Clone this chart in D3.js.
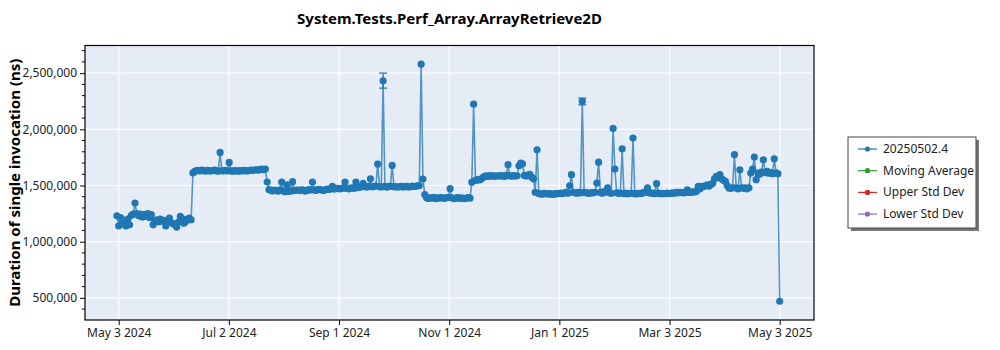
<!DOCTYPE html>
<html><head><meta charset="utf-8">
<script src="https://cdn.jsdelivr.net/npm/d3@7"></script>
<style>
html,body{margin:0;padding:0;background:#fff;}
svg{display:block;font-family:"Noto Sans","Open Sans",sans-serif;}
</style></head>
<body>
<svg id="chart" width="1000" height="350"></svg>
<script>
// ---------- data ----------
const chartTitle = "System.Tests.Perf_Array.ArrayRetrieve2D";
const yAxisTitle = "Duration of single invocation (ns)";
const startDate = "2024-05-02T00:00:00Z"; // first run, one run per day after that
// duration per daily run, in thousands of ns
const durationsK = [
 1230,1140,1215,1160,1190,1140,1200,1150,1235,1245,
 1344,1250,1230,1245,1220,1240,1225,1250,1215,1240,
 1150,1180,1195,1175,1200,1185,1190,1140,1170,1210,
 1170,1160,1150,1130,1175,1225,1205,1165,1180,1200,
 1210,1195,
 1612,1625,1632,1634,1630,1636,1632,1628,1635,1631,
 1629,1633,1637,1630,1628,1794,1632,1630,1634,1629,
 1705,1631,1627,1633,1630,1628,1632,1629,1634,1631,
 1630,1633,1636,1635,1638,1640,1637,1642,1645,1640,
 1646,
 1531,1463,1458,1452,1460,1455,1450,1462,
 1531,1450,1445,1505,1448,1452,1534,1455,1458,
 1460,1455,1462,1458,1450,1456,1463,1459,1531,1461,
 1457,1463,1466,1460,1455,1462,1468,1465,1470,1492,
 1468,1472,1475,1470,1473,1478,1531,1474,1470,1476,
 1479,1475,1531,1482,1486,1488,1520,1490,1485,1492,
 1560,1488,1493,1495,1691,1490,1487,2432,1492,1486,
 1490,1494,1679,1488,1491,1485,1489,1493,1487,1490,
 1492,1486,1489,1495,1491,1493,1497,1499,2580,1558,
 1420,1392,1385,1390,1388,1395,1383,1391,1387,1393,
 1389,1386,1392,1395,1472,1390,1384,1388,1392,1386,
 1390,1385,1383,1389,1392,1387,1530,2224,1545,1552,
 1550,1555,1570,1582,1585,1580,1588,1584,1586,1582,
 1587,1583,1589,1585,1581,1590,1685,1586,1584,1588,
 1583,1587,1676,1700,1693,1590,1585,1592,1600,1575,
 1560,1440,1818,1428,1425,1422,1430,1426,1424,1428,
 1423,1421,1427,1425,1429,1432,1428,1435,1438,1432,
 1498,1596,1440,1436,1432,1438,1435,2250,1440,1436,
 1433,1430,1437,1434,1440,1522,1708,1438,1432,1445,
 1442,1480,1436,1431,2008,1647,1435,1430,1433,1827,
 1428,1432,1426,1429,1431,1922,1427,1425,1430,1428,
 1432,1438,1440,1480,1436,1430,1433,1428,1516,1432,
 1427,1430,1426,1429,1433,1428,1431,1435,1432,1438,
 1436,1440,1437,1434,1441,1462,1438,1440,1444,1442,
 1446,1492,1470,1492,1490,1500,1505,1495,1510,1520,
 1560,1581,1570,1596,1560,1545,1537,1500,1478,1475,
 1480,1774,1478,1470,1640,1480,1475,1478,1470,1480,
 1611,1647,1753,1552,1610,1600,1620,1729,1615,1625,
 1610,1618,1605,1738,1612,1605,470
];
// error bars (index of run, low, high) in thousands of ns
const errIndex = [147, 257];
const errLowK  = [2366, 2218];
const errHighK = [2500, 2277];

const xTickDates  = ["2024-05-03T00:00:00Z","2024-07-02T20:00:00Z","2024-09-01T16:00:00Z","2024-11-01T12:00:00Z","2025-01-01T08:00:00Z","2025-03-03T04:00:00Z","2025-05-03T00:00:00Z"];
const xTickLabels = ["May 3 2024","Jul 2 2024","Sep 1 2024","Nov 1 2024","Jan 1 2025","Mar 3 2025","May 3 2025"];
const yTicks = [500000, 1000000, 1500000, 2000000, 2500000];

const legendNames  = ["20250502.4","Moving Average","Upper Std Dev","Lower Std Dev"];
const legendColors = ["#1f77b4","#2ca02c","#d62728","#9467bd"];

// ---------- layout ----------
const plot = {left: 85, right: 814, top: 45.5, bottom: 320};
const svg = d3.select("#chart");

const start = new Date(startDate);
const series = durationsK.map((v, i) => ({date: d3.utcDay.offset(start, i), value: v * 1000}));

const x = d3.scaleUtc()
  .domain([new Date("2024-05-03T00:00:00Z"), new Date("2025-05-03T00:00:00Z")])
  .range([118.7, 779.7]);
const y = d3.scaleLinear().domain([303000, 2746000]).range([plot.bottom, plot.top]);

// background
svg.append("rect").attr("x", plot.left).attr("y", plot.top)
  .attr("width", plot.right - plot.left).attr("height", plot.bottom - plot.top)
  .attr("fill", "#e5ecf6");

const tickDates = xTickDates.map(d => new Date(d));

// grid
const grid = svg.append("g");
grid.selectAll("line.gx").data(tickDates).join("line")
  .attr("x1", d => x(d)).attr("x2", d => x(d))
  .attr("y1", plot.top).attr("y2", plot.bottom)
  .attr("stroke", "#fff").attr("stroke-width", 1.2);
grid.selectAll("line.gy").data(yTicks).join("line")
  .attr("x1", plot.left).attr("x2", plot.right)
  .attr("y1", d => y(d)).attr("y2", d => y(d))
  .attr("stroke", "#fff").attr("stroke-width", 1.2);

// clip
svg.append("clipPath").attr("id", "clip").append("rect")
  .attr("x", plot.left).attr("y", plot.top)
  .attr("width", plot.right - plot.left).attr("height", plot.bottom - plot.top);

const dataG = svg.append("g").attr("clip-path", "url(#clip)");
const color = legendColors[0];

const line = d3.line().x(d => x(d.date)).y(d => y(d.value));
dataG.append("path").datum(series)
  .attr("d", line).attr("fill", "none")
  .attr("stroke", color).attr("stroke-opacity", 0.75).attr("stroke-width", 1.6);

// error bars
const errs = errIndex.map((idx, k) => ({date: series[idx].date, lo: errLowK[k] * 1000, hi: errHighK[k] * 1000}));
const eg = dataG.append("g").attr("stroke", color).attr("stroke-width", 1.3);
eg.selectAll("line.v").data(errs).join("line")
  .attr("x1", d => x(d.date)).attr("x2", d => x(d.date))
  .attr("y1", d => y(d.lo)).attr("y2", d => y(d.hi));
eg.selectAll("line.lo").data(errs).join("line")
  .attr("x1", d => x(d.date) - 4).attr("x2", d => x(d.date) + 4)
  .attr("y1", d => y(d.lo)).attr("y2", d => y(d.lo));
eg.selectAll("line.hi").data(errs).join("line")
  .attr("x1", d => x(d.date) - 4).attr("x2", d => x(d.date) + 4)
  .attr("y1", d => y(d.hi)).attr("y2", d => y(d.hi));

dataG.selectAll("circle").data(series).join("circle")
  .attr("cx", d => x(d.date)).attr("cy", d => y(d.value)).attr("r", 3.6)
  .attr("fill", color);

// frame
svg.append("rect").attr("x", plot.left).attr("y", plot.top)
  .attr("width", plot.right - plot.left).attr("height", plot.bottom - plot.top)
  .attr("fill", "none").attr("stroke", "#000").attr("stroke-width", 1.2);

// axes
const fmt = d3.format(",");
const yAxis = d3.axisLeft(y).tickValues(yTicks).tickFormat(fmt).tickSize(5).tickPadding(3);
const yg = svg.append("g").attr("transform", `translate(${plot.left},0)`).call(yAxis);
yg.select(".domain").remove();
yg.selectAll("text").attr("font-size", 12).attr("fill", "#222")
  .attr("font-family", "'Noto Sans','Open Sans',sans-serif");
// minor y ticks
const minorY = d3.range(400000, 2700001, 100000).filter(v => !yTicks.includes(v));
svg.append("g").selectAll("line").data(minorY).join("line")
  .attr("x1", plot.left - 3).attr("x2", plot.left)
  .attr("y1", d => y(d)).attr("y2", d => y(d)).attr("stroke", "#000");

const xAxis = d3.axisBottom(x).tickValues(tickDates)
  .tickFormat((d, i) => xTickLabels[i]).tickSize(5).tickPadding(3);
const xg = svg.append("g").attr("transform", `translate(0,${plot.bottom})`).call(xAxis);
xg.select(".domain").remove();
xg.selectAll("text").attr("font-size", 12).attr("fill", "#222")
  .attr("font-family", "'Noto Sans','Open Sans',sans-serif");

// titles
svg.append("text").attr("x", (plot.left + plot.right) / 2).attr("y", 24)
  .attr("text-anchor", "middle").attr("font-size", 15).attr("font-weight", "bold")
  .text(chartTitle);
svg.append("text")
  .attr("transform", `translate(20,${(plot.top + plot.bottom) / 2}) rotate(-90)`)
  .attr("text-anchor", "middle").attr("font-size", 15).attr("font-weight", "bold")
  .text(yAxisTitle);

// legend
const lg = svg.append("g").attr("transform", "translate(848,137)");
lg.append("rect").attr("x", 3).attr("y", 3).attr("width", 128).attr("height", 91).attr("fill", "#777");
lg.append("rect").attr("x", 0).attr("y", 0).attr("width", 128).attr("height", 91)
  .attr("fill", "#fff").attr("stroke", "#444").attr("stroke-width", 1);
const items = lg.selectAll("g.item").data(legendNames).join("g")
  .attr("transform", (d, i) => `translate(0,${12 + i * 21.7})`);
items.append("line").attr("x1", 10).attr("x2", 29).attr("y1", 0).attr("y2", 0)
  .attr("stroke", (d, i) => legendColors[i]).attr("stroke-width", 1.2);
items.append("circle").attr("cx", 19.5).attr("cy", 0).attr("r", 2.6)
  .attr("fill", (d, i) => legendColors[i]);
items.append("text").attr("x", 35).attr("y", 4).attr("font-size", 12).attr("fill", "#222")
  .text(d => d);
</script>
</body></html>
